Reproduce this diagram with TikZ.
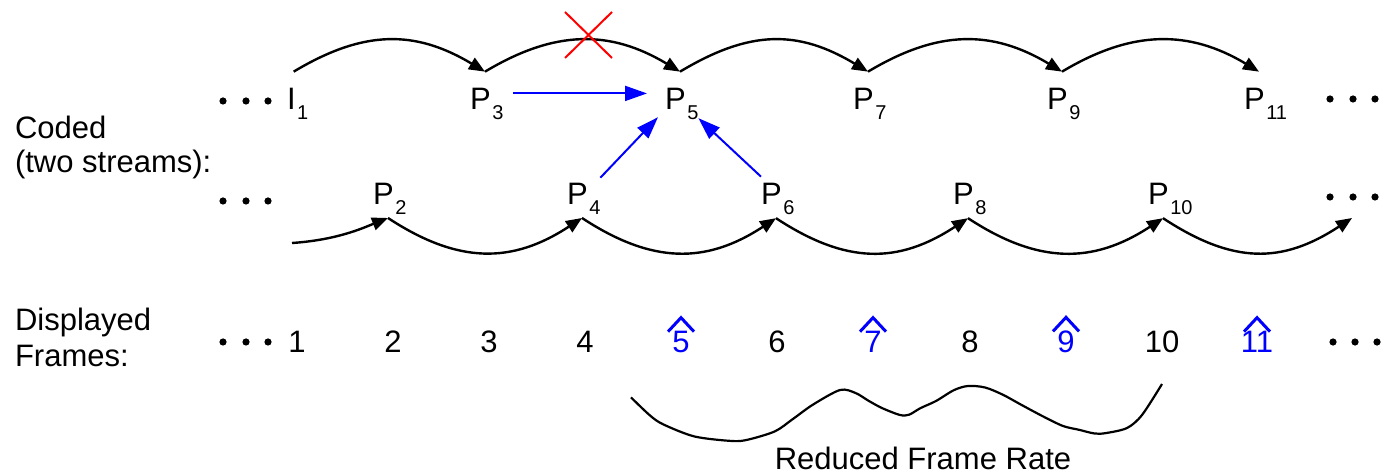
\documentclass[tikz,border=0pt]{standalone}
\usepackage{fontspec}
\setmainfont{Liberation Sans}
\usetikzlibrary{arrows.meta}
\newcommand\sbs[1]{\kern0.8pt\raisebox{-5pt}{\fontsize{10}{10}\selectfont #1}}
\begin{document}
\begin{tikzpicture}[x=0.5pt,y=-0.5pt,
  every node/.style={inner sep=0pt, outer sep=0pt, font=\fontsize{15.5}{18}\selectfont},
  lab/.style={anchor=base west},
  num/.style={anchor=base},
  bnum/.style={anchor=base, text=blue},
  arc/.style={line width=1.2pt, -{Triangle[length=8pt,width=6.5pt]}},
  blu/.style={draw=blue, line width=1pt, -{Triangle[length=11pt,width=7.5pt]}},
  hat/.style={draw=blue, line width=1.5pt},
  topend/.style={shift={(7.5pt,8.5pt)}},
  botend/.style={shift={(7.5pt,-1.5pt)}}]
\useasboundingbox (0,0) rectangle (1385,474);

% left labels
\node[lab] (c1) at (15,139) {Coded};
\node[lab] (c2) at (15,173) {(two streams):};
\node[lab] (d1) at (15,331) {Displayed};
\node[lab] (d2) at (15,367) {Frames:};

% dots
\foreach \x/\y in {223/101,246/101,268/101, 223/201,246/201,268/201, 223/342,246/342,268/342,
                   1330/99,1353/99,1375/99, 1330/197,1353/197,1375/197, 1333/342,1355/342,1377/342}
  \fill (\x,\y) circle (1.8pt);

% top row
\node[lab] (I1)  at (287,110)  {I\sbs{1}};
\node[lab] (P3)  at (470,110)  {P\sbs{3}};
\node[lab] (P5)  at (665,110)  {P\sbs{5}};
\node[lab] (P7)  at (853,110)  {P\sbs{7}};
\node[lab] (P9)  at (1047,110) {P\sbs{9}};
\node[lab] (P11) at (1244,110) {P\sbs{11}};

% middle row
\node[lab] (P2)  at (373,205)  {P\sbs{2}};
\node[lab] (P4)  at (567,205)  {P\sbs{4}};
\node[lab] (P6)  at (761,205)  {P\sbs{6}};
\node[lab] (P8)  at (953,205)  {P\sbs{8}};
\node[lab] (P10) at (1148,205) {P\sbs{10}};
\coordinate (s2) at (292,243);
\coordinate (e2) at (1352,218);

% bottom row
\node[num]  (n1)  at (297,353)  {1};
\node[num]  (n2)  at (393,353)  {2};
\node[num]  (n3)  at (489,353)  {3};
\node[num]  (n4)  at (585,353)  {4};
\node[bnum] (n5)  at (681,353)  {5};
\node[num]  (n6)  at (777,353)  {6};
\node[bnum] (n7)  at (873,353)  {7};
\node[num]  (n8)  at (970,353)  {8};
\node[bnum] (n9)  at (1066,353) {9};
\node[num]  (n10) at (1162,353) {10};
\node[bnum] (n11) at (1257,353) {11};

% top arcs
\draw[arc] ([shift={(-2pt,8.5pt)}]I1.north) .. controls +(70,-42) and +(-70,-42) .. ([topend]P3.north west);
\draw[arc] ([topend]P3.north west) .. controls +(70,-42) and +(-70,-42) .. ([topend]P5.north west);
\draw[arc] ([topend]P5.north west) .. controls +(70,-42) and +(-70,-42) .. ([topend]P7.north west);
\draw[arc] ([topend]P7.north west) .. controls +(70,-42) and +(-70,-42) .. ([topend]P9.north west);
\draw[arc] ([topend]P9.north west) .. controls +(70,-42) and +(-70,-42) .. ([topend]P11.north west);

% middle arcs
\draw[arc] (s2) .. controls +(45,-3) and +(-25,10) .. ([botend]P2.south west);
\draw[arc] ([botend]P2.south west) .. controls +(70,46) and +(-70,46) .. ([botend]P4.south west);
\draw[arc] ([botend]P4.south west) .. controls +(70,46) and +(-70,46) .. ([botend]P6.south west);
\draw[arc] ([botend]P6.south west) .. controls +(70,46) and +(-70,46) .. ([botend]P8.south west);
\draw[arc] ([botend]P8.south west) .. controls +(70,46) and +(-70,46) .. ([botend]P10.south west);
\draw[arc] ([botend]P10.south west) .. controls +(70,46) and +(-70,46) .. (e2);

% red cross
\draw[red, line width=1pt] (565,12) -- (612,58) (612,12) -- (565,58);

% blue arrows
\draw[blu, shorten <=5pt, shorten >=9pt] ([yshift=5.5pt]P3.east) -- ([yshift=5.5pt]P5.west);
\draw[blu] ([yshift=3pt]P4.north east) -- ([shift={(-3.5pt,1.5pt)}]P5.south west);
\draw[blu] ([yshift=3.5pt]P6.north west) -- ([yshift=1pt]P5.south east);

% hats
\foreach \n in {n5,n7,n9,n11}
  \draw[hat] ([shift={(-13,0)}]\n.north) -- ([shift={(0,-14)}]\n.north) -- ([shift={(13,0)}]\n.north);

% reduced frame rate brace
\draw[line width=1.1pt] plot[smooth, tension=0.5] coordinates {
 (631,397.4) (649.9,415.4) (663.3,424.4) (694.6,436.5) (732,441) (748.2,439.6) (775.0,431.3)
 (792.9,419) (813.0,404.6) (840,390) (855.5,393) (868.9,401) (882.3,408.2) (900,415)
 (909.1,414.7) (920.3,408.2) (936.0,401) (953.8,390.2) (968,386) (985.1,387.5) (1003.0,394.8)
 (1020.9,404.6) (1043.2,416.5) (1063,426) (1079.0,429.8) (1094.6,433.5) (1105.8,433.1)
 (1127,428) (1142,415) (1162,384)};
\node[num] (rfr) at (923,470) {Reduced Frame Rate};
\end{tikzpicture}
\end{document}
